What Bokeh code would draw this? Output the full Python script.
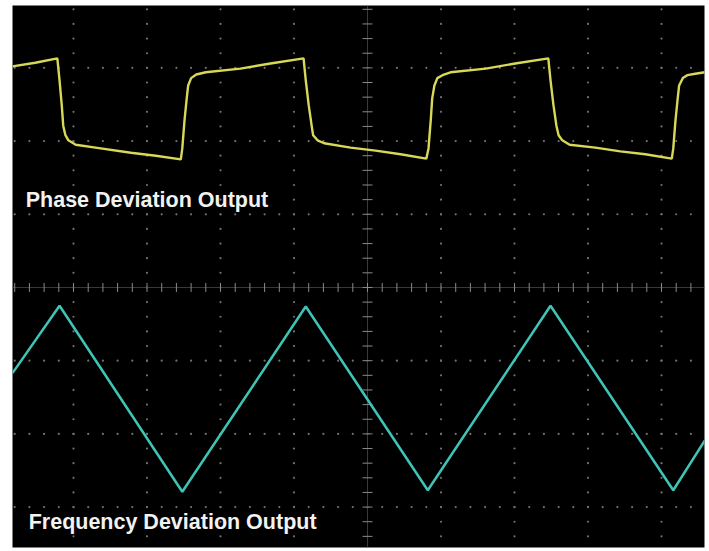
import numpy as np
from bokeh.plotting import figure
from bokeh.models import Label
from bokeh.embed import file_html
from bokeh.resources import INLINE

# Time axis in screen divisions, amplitude in vertical divisions (center = 0)
phase_t = [-4.83, -4.52, -4.22, -4.19, -4.16, -4.14, -4.11, -4.07, -3.97, -3.63, -3.22, -2.88, -2.54,
           -2.52, -2.49, -2.46, -2.44, -2.40, -2.33, -2.20, -1.73, -1.32, -0.87,
           -0.84, -0.80, -0.76, -0.74, -0.68, -0.59, -0.23, 0.11, 0.45, 0.80,
           0.83, 0.86, 0.88, 0.91, 0.95, 1.02, 1.13, 1.61, 2.01, 2.46,
           2.49, 2.53, 2.57, 2.60, 2.65, 2.75, 3.10, 3.44, 3.78, 4.14,
           4.16, 4.19, 4.22, 4.24, 4.29, 4.35, 4.46, 4.59]
phase_v = [3.02, 3.07, 3.13, 2.83, 2.49, 2.21, 2.08, 2.01, 1.95, 1.90, 1.84, 1.80, 1.75,
           1.90, 2.28, 2.58, 2.76, 2.86, 2.91, 2.94, 2.99, 3.06, 3.13,
           2.83, 2.49, 2.21, 2.08, 2.01, 1.97, 1.91, 1.87, 1.82, 1.76,
           1.90, 2.28, 2.58, 2.76, 2.86, 2.90, 2.94, 2.99, 3.06, 3.13,
           2.83, 2.49, 2.21, 2.08, 2.01, 1.95, 1.91, 1.86, 1.82, 1.76,
           1.90, 2.28, 2.58, 2.76, 2.86, 2.90, 2.92, 2.94]

freq_t = [-4.83, -4.19, -2.52, -0.84, 0.82, 2.49, 4.16, 4.59]
freq_v = [-1.17, -0.25, -2.79, -0.26, -2.77, -0.25, -2.77, -2.09]

labels = ["Phase Deviation Output", "Frequency Deviation Output"]
label_t = [-4.65, -4.61]
label_v = [1.20, -3.21]

x0, x1 = -4.83, 4.585
y0, y1 = -3.552, 3.852

p = figure(width=709, height=551, x_range=(x0, x1), y_range=(y0, y1),
           output_backend="svg", toolbar_location=None,
           min_border_left=12, min_border_right=5, min_border_top=5, min_border_bottom=4,
           background_fill_color="black", border_fill_color="white",
           outline_line_color=None)
p.axis.visible = False
p.grid.visible = False

# dotted graticule
dot_col = "#727272"
steps_v = np.round(np.arange(-3.6, 3.81, 0.2), 3)
steps_t = np.round(np.arange(-4.8, 4.61, 0.2), 3)
gx, gy = [], []
for k in range(-4, 5):
    if k == 0:
        continue
    gx += [k] * len(steps_v)
    gy += list(steps_v)
for k in range(-3, 4):
    if k == 0:
        continue
    gx += list(steps_t)
    gy += [k] * len(steps_t)
p.scatter(gx, gy, marker="circle", size=2.2, color=dot_col, line_color=None)

# center cross with ticks
p.line([x0, x1], [0, 0], line_color="#3a3a3a", line_width=1)
p.line([0, 0], [y0, y1], line_color="#3a3a3a", line_width=1)
p.scatter(list(steps_t), [0] * len(steps_t), marker="dash", angle=np.pi / 2, size=9,
          line_color="#8a8a8a", line_width=1)
p.scatter([0] * len(steps_v), list(steps_v), marker="dash", size=10,
          line_color="#8a8a8a", line_width=1)

# traces
p.line(phase_t, phase_v, line_color="#d8d858", line_width=2.4)
p.line(freq_t, freq_v, line_color="#3fc4b8", line_width=2.5)

for txt, tx, ty in zip(labels, label_t, label_v):
    p.add_layout(Label(x=tx, y=ty, text=txt, text_color="#f2f2f2",
                       text_font="Liberation Sans", text_font_style="bold",
                       text_font_size="21.5px", text_baseline="alphabetic"))

open("out.html", "w").write(file_html(p, INLINE))
